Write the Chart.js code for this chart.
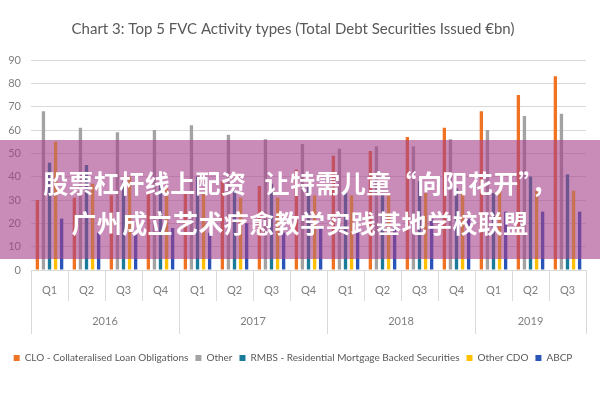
<!DOCTYPE html>
<html>
<head>
<meta charset="utf-8">
<script src="https://cdn.jsdelivr.net/npm/chart.js@4"></script>
<style>
  html, body { margin: 0; padding: 0; background: #fff; }
  #wrap { position: relative; width: 600px; height: 400px; }
  #banner {
    position: absolute; left: 0; top: 140px; width: 600px; height: 119px;
    background: rgba(165, 62, 137, 0.6);
    color: #fff; font-family: "Noto Sans CJK SC", sans-serif; font-weight: 700;
    font-size: 25px; line-height: 40px; text-align: center; letter-spacing: 0.4px;
    box-sizing: border-box; padding-top: 22px;
  }
  #banner div { white-space: pre; }
</style>
</head>
<body>
<div id="wrap">
  <canvas id="c" width="600" height="400"></canvas>
  <div id="banner"><div>股票杠杆线上配资   让特需儿童“向阳花开”，</div><div>广州成立艺术疗愈教学实践基地学校联盟</div></div>
</div>
<script>
const quarters = ["Q1","Q2","Q3","Q4","Q1","Q2","Q3","Q4","Q1","Q2","Q3","Q4","Q1","Q2","Q3"];
const years = ["2016","2017","2018","2019"];
const yearSpans = [4, 4, 4, 3];
const seriesNames = ["CLO - Collateralised Loan Obligations","Other","RMBS - Residential Mortgage Backed Securities","Other CDO","ABCP"];
const clo      = [30, 31, 32, 33, 33, 38, 36, 43, 49, 51, 57, 61, 68, 75, 83];
const other    = [68, 61, 59, 60, 62, 58, 56, 54, 52, 53, 53, 56, 60, 66, 67];
const rmbs     = [46, 45, 38, 37, 40, 34, 37, 36, 34, 33, 38, 35, 33, 40, 41];
const otherCdo = [55, 37, 40, 35, 33, 31, 31, 32, 32, 32, 33, 33, 34, 34, 34];
const abcp     = [22, 16, 16, 18, 16, 20, 16, 18, 17, 20, 22, 22, 25, 25, 25];
const yTicks = [0,10,20,30,40,50,60,70,80,90];

const colors = ["#F07323", "#A3A3A3", "#1B7B9B", "#FFC000", "#2A55B8"];
const seriesData = [clo, other, rmbs, otherCdo, abcp];

const groupPlugin = {
  id: 'groups',
  afterDraw(chart) {
    const ctx = chart.ctx;
    const xs = chart.scales.x;
    const area = chart.chartArea;
    const w = xs.getPixelForValue(1) - xs.getPixelForValue(0);
    ctx.save();
    ctx.strokeStyle = "#d9d9d9";
    ctx.lineWidth = 1;
    let yearIdx = [0];
    let acc = 0;
    yearSpans.forEach(s => { acc += s; yearIdx.push(acc); });
    for (let i = 0; i <= quarters.length; i++) {
      const x = Math.round(xs.getPixelForValue(0) - w / 2 + i * w) + 0.5;
      const isYear = yearIdx.includes(i);
      ctx.beginPath();
      ctx.moveTo(x, area.bottom);
      ctx.lineTo(x, area.bottom + (isYear ? 64 : 31));
      ctx.stroke();
    }
    ctx.fillStyle = "#7f7f7f";
    ctx.font = "11px Lato";
    ctx.textAlign = "center";
    ctx.textBaseline = "middle";
    let start = 0;
    years.forEach((y, k) => {
      const a = xs.getPixelForValue(start);
      const b = xs.getPixelForValue(start + yearSpans[k] - 1);
      ctx.fillText(y, (a + b) / 2, area.bottom + 51);
      start += yearSpans[k];
    });
    ctx.restore();
  }
};

new Chart(document.getElementById('c'), {
  type: 'bar',
  data: {
    labels: quarters,
    datasets: seriesNames.map((n, i) => ({
      label: n,
      data: seriesData[i],
      backgroundColor: colors[i],
      borderWidth: 0,
      categoryPercentage: 0.82,
      barPercentage: 0.55
    }))
  },
  options: {
    responsive: false,
    animation: false,
    devicePixelRatio: 1,
    layout: { padding: { left: 0, right: 14, top: 0, bottom: 27 } },
    plugins: {
      title: {
        display: true,
        text: "Chart 3: Top 5 FVC Activity types (Total Debt Securities Issued €bn)",
        color: "#595959",
        font: { family: "Lato", size: 15, weight: "normal" },
        padding: { top: 20, bottom: 22 }
      },
      legend: {
        position: 'bottom',
        labels: {
          color: "#595959",
          font: { family: "Lato", size: 10 },
          boxWidth: 6, boxHeight: 6,
          padding: 7
        }
      },
      tooltip: { enabled: false }
    },
    scales: {
      x: {
        grid: { display: false, drawTicks: false },
        border: { display: true, color: "#d9d9d9" },
        ticks: { color: "#7f7f7f", font: { family: "Lato", size: 11 }, padding: 14, maxRotation: 0, autoSkip: false },
        afterFit(s) { s.height = 76; }
      },
      y: {
        min: 0, max: 90,
        afterBuildTicks(s) { s.ticks = yTicks.map(v => ({ value: v })); },
        grid: { color: "#d9d9d9", drawTicks: false },
        border: { display: false },
        ticks: { color: "#7f7f7f", font: { family: "Lato", size: 11 }, padding: 10 },
        afterFit(s) { s.width = 31; }
      }
    }
  },
  plugins: [groupPlugin]
});
</script>
</body>
</html>
